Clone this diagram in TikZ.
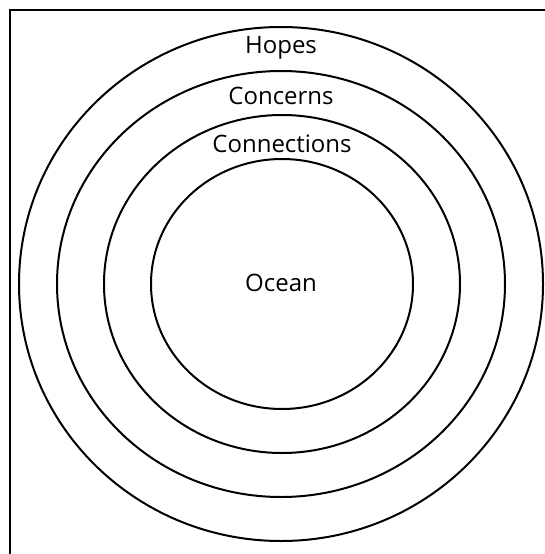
\documentclass[tikz,border=0pt]{standalone}
\usepackage{fontspec}
\setmainfont{Open Sans}
\usetikzlibrary{positioning}

\begin{document}
\begin{tikzpicture}[x=1pt,y=-1pt,
  ring/.style={draw, line width=2pt},
  lbl/.style={font=\fontsize{24}{28}\selectfont, inner sep=0pt}]
\useasboundingbox (0,0) rectangle (545,554);
\draw[line width=2.3pt] (10,10) rectangle (560,570);
% rings
\draw[ring] (281,284) ellipse [x radius=262, y radius=257];
\draw[ring] (281,284) ellipse [x radius=224, y radius=213];
\draw[ring] (282,284) ellipse [x radius=178, y radius=169];
\draw[ring] (282,284) ellipse [x radius=131, y radius=125];
% labels
\node[lbl] (hopes) at (281,48) {Hopes};
\node[lbl] (concerns) at (281,96) {Concerns};
\node[lbl] (connections) at (282,144) {Connections};
\node[lbl] (ocean) at (281,283) {Ocean};
\end{tikzpicture}
\end{document}
